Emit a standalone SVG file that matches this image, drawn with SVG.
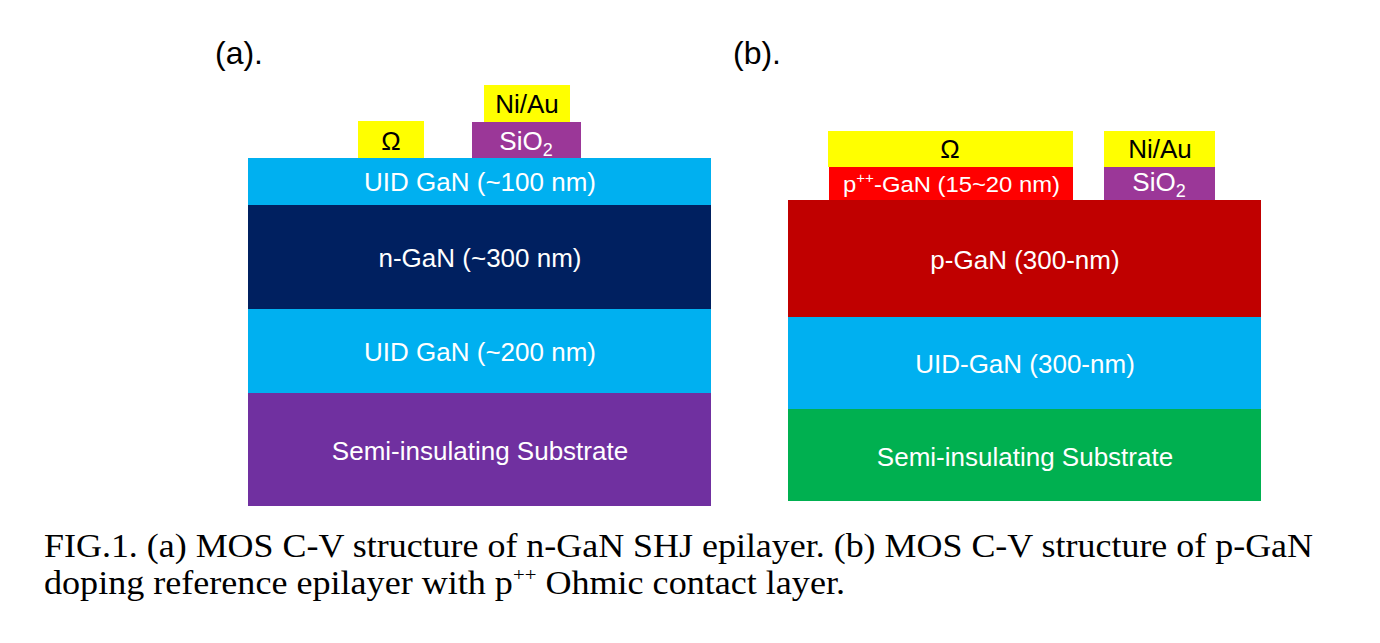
<svg xmlns="http://www.w3.org/2000/svg" width="1380" height="643" viewBox="0 0 1380 643">
<style>
.lbl{font-family:"Liberation Sans",Arial,sans-serif;font-size:26px;text-anchor:middle}
.w{fill:#ffffff}
.k{fill:#000000}
.cap{font-family:"Liberation Serif","Times New Roman",serif;font-size:33px;fill:#000}
.sub{font-size:18px}
</style>
<rect width="1380" height="643" fill="#ffffff"/>
<text x="215" y="64" font-family="Liberation Sans, Arial, sans-serif" font-size="32">(a).</text>
<text x="733" y="64" font-family="Liberation Sans, Arial, sans-serif" font-size="32">(b).</text>

<g id="a-substrate"><rect x="248" y="392" width="463" height="114" fill="#7030A0"/><text class="lbl w" x="480" y="460">Semi-insulating Substrate</text></g>
<g id="a-uid200"><rect x="248" y="309" width="463" height="84" fill="#00B0F0"/><text class="lbl w" x="480" y="361">UID GaN (~200 nm)</text></g>
<g id="a-ngan"><rect x="248" y="205" width="463" height="104" fill="#002060"/><text class="lbl w" x="480" y="267">n-GaN (~300 nm)</text></g>
<g id="a-uid100"><rect x="248" y="158" width="463" height="47" fill="#00B0F0"/><text class="lbl w" x="480" y="191">UID GaN (~100 nm)</text></g>
<g id="a-ohm"><rect x="358" y="121" width="66" height="37" fill="#FFFF00"/><text class="lbl k" x="391" y="150">Ω</text></g>
<g id="a-sio2"><rect x="472" y="122" width="109" height="36" fill="#9B3798"/><text class="lbl w" x="526" y="150">SiO<tspan class="sub" dy="6">2</tspan></text></g>
<g id="a-niau"><rect x="484" y="85" width="86" height="37" fill="#FFFF00"/><text class="lbl k" x="527" y="113">Ni/Au</text></g>

<g id="b-substrate"><rect x="788" y="409" width="473" height="92" fill="#00B050"/><text class="lbl w" x="1025" y="466">Semi-insulating Substrate</text></g>
<g id="b-uid"><rect x="788" y="317" width="473" height="92" fill="#00B0F0"/><text class="lbl w" x="1025" y="373">UID-GaN (300-nm)</text></g>
<g id="b-pgan"><rect x="788" y="200" width="473" height="117" fill="#C00000"/><text class="lbl w" x="1025" y="269">p-GaN (300-nm)</text></g>
<g id="b-ppp"><rect x="829" y="167" width="244" height="33" fill="#FF0000"/><text class="w" x="843" y="192" font-family="Liberation Sans, Arial, sans-serif" font-size="22" textLength="217" lengthAdjust="spacingAndGlyphs">p<tspan font-size="14" dy="-9">++</tspan><tspan dy="9">-GaN (15~20 nm)</tspan></text></g>
<g id="b-ohm"><rect x="828" y="131" width="245" height="36" fill="#FFFF00"/><text class="lbl k" x="950" y="158">Ω</text></g>
<g id="b-sio2"><rect x="1104" y="167" width="111" height="33" fill="#9B3798"/><text class="lbl w" x="1159" y="191">SiO<tspan class="sub" dy="6">2</tspan></text></g>
<g id="b-niau"><rect x="1104" y="131" width="111" height="36" fill="#FFFF00"/><text class="lbl k" x="1160" y="158">Ni/Au</text></g>

<text class="cap" x="44" y="557" textLength="1269" lengthAdjust="spacingAndGlyphs">FIG.1. (a) MOS C-V structure of n-GaN SHJ epilayer. (b) MOS C-V structure of p-GaN</text>
<text class="cap" x="44" y="594" textLength="801" lengthAdjust="spacingAndGlyphs">doping reference epilayer with p<tspan font-size="19" dy="-13">++</tspan><tspan dy="13"> Ohmic contact layer.</tspan></text>
</svg>
